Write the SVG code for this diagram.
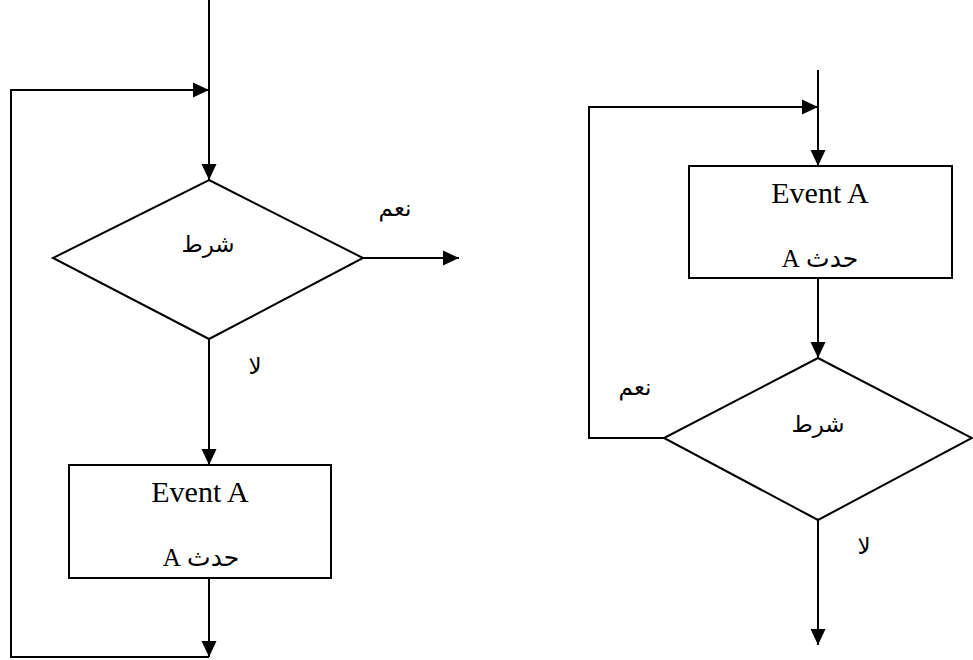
<svg xmlns="http://www.w3.org/2000/svg" width="973" height="660" viewBox="0 0 973 660">
  <style>
    .shape { fill: #fff; stroke: #000; stroke-width: 2; }
    .wire { fill: none; stroke: #000; stroke-width: 2; }
    .arrow { marker-end: url(#head); }
    .en { font-family: "Liberation Serif", "DejaVu Serif", serif; font-size: 30px; fill: #000; }
    .ar { font-family: "DejaVu Sans", "Liberation Sans", sans-serif; font-size: 23px; fill: #000; }
    .ar-serif { font-family: "Liberation Serif", "DejaVu Sans", serif; font-size: 25px; fill: #000; }
  </style>
  <defs>
    <marker id="head" markerUnits="userSpaceOnUse" markerWidth="16" markerHeight="16" viewBox="0 0 16 16" refX="16" refY="8" orient="auto">
      <path d="M0,0.5 L16,8 L0,15.5 Z" fill="#000"/>
    </marker>
  </defs>
  <rect width="973" height="660" fill="#fff"/>

  <!-- connectors -->
  <g id="connectors">
    <!-- left chart: while-loop -->
    <line class="wire arrow" x1="209" y1="0" x2="209" y2="180"/>
    <polyline class="wire arrow" points="209,657 11,657 11,90 209,90"/>
    <line class="wire arrow" x1="363" y1="258" x2="459" y2="258"/>
    <line class="wire arrow" x1="209" y1="339" x2="209" y2="465"/>
    <line class="wire arrow" x1="209" y1="578" x2="209" y2="657"/>
    <!-- right chart: do-while loop -->
    <line class="wire arrow" x1="818" y1="70" x2="818" y2="166"/>
    <polyline class="wire arrow" points="664,438 589,438 589,107 818,107"/>
    <line class="wire arrow" x1="818" y1="278" x2="818" y2="358"/>
    <line class="wire arrow" x1="818" y1="520" x2="818" y2="645"/>
  </g>

  <!-- left chart nodes -->
  <g id="cond-left">
    <polygon class="shape" points="209,180 363,258 209,339 53,258"/>
    <text class="ar" x="208" y="252" text-anchor="middle">شرط</text>
  </g>
  <g id="event-left">
    <rect class="shape" x="69" y="465" width="262" height="113"/>
    <text class="en" x="200" y="502" text-anchor="middle">Event A</text>
    <text class="ar-serif" x="201" y="566" text-anchor="middle" direction="rtl">حدث A</text>
  </g>
  <g id="labels-left">
    <text class="ar" x="395" y="216" text-anchor="middle">نعم</text>
    <text class="ar" x="255" y="374" text-anchor="middle">لا</text>
  </g>

  <!-- right chart nodes -->
  <g id="event-right">
    <rect class="shape" x="689" y="166" width="263" height="112"/>
    <text class="en" x="820" y="203" text-anchor="middle">Event A</text>
    <text class="ar-serif" x="820" y="267" text-anchor="middle" direction="rtl">حدث A</text>
  </g>
  <g id="cond-right">
    <polygon class="shape" points="818,358 972,438 818,520 664,438"/>
    <text class="ar" x="818" y="432" text-anchor="middle">شرط</text>
  </g>
  <g id="labels-right">
    <text class="ar" x="635" y="395" text-anchor="middle">نعم</text>
    <text class="ar" x="864" y="554" text-anchor="middle">لا</text>
  </g>
</svg>
